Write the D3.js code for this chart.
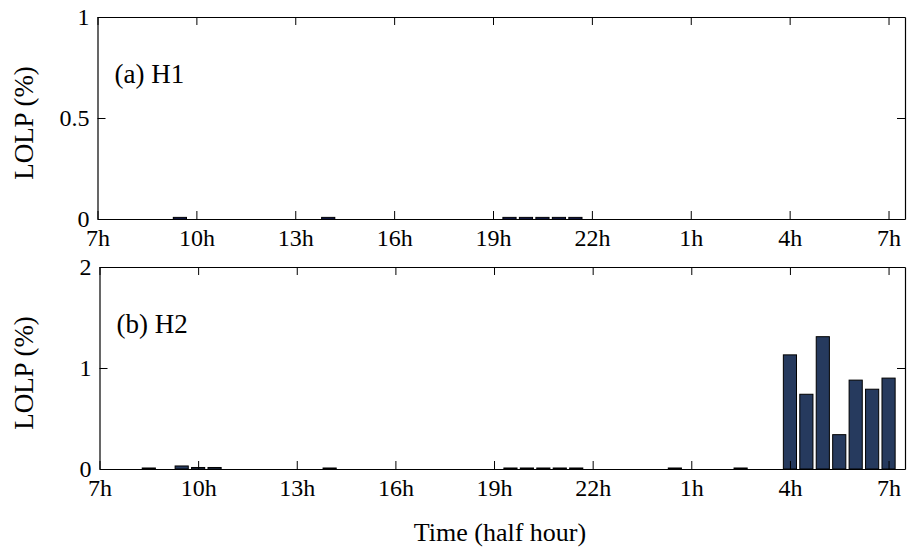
<!DOCTYPE html>
<html>
<head>
<meta charset="utf-8">
<script src="https://cdn.jsdelivr.net/npm/d3@7"></script>
<style>
  html, body { margin: 0; padding: 0; background: #fff; }
  svg { display: block; }
  text { font-family: "Liberation Serif", "Times New Roman", serif; fill: #000; }
</style>
</head>
<body>
<svg id="chart" width="907" height="548"></svg>
<script>
// Half-hour slots 1..48 (7:30 -> 7:00 next day); slot 0 = 7h
const xTickValues = [0, 6, 12, 18, 24, 30, 36, 42, 48];
const xTickLabels = ["7h", "10h", "13h", "16h", "19h", "22h", "1h", "4h", "7h"];

// LOLP (%) per half-hour slot, slot 1 .. slot 48
const h1Values = [
  0, 0, 0, 0, 0.008, 0, 0, 0, 0, 0, 0, 0,
  0, 0.008, 0, 0, 0, 0, 0, 0, 0, 0, 0, 0,
  0.008, 0.008, 0.008, 0.008, 0.008, 0, 0, 0, 0, 0, 0, 0,
  0, 0, 0, 0, 0, 0, 0, 0, 0, 0, 0, 0
];
const h2Values = [
  0, 0, 0.01, 0, 0.03, 0.015, 0.015, 0, 0, 0, 0, 0,
  0, 0.01, 0, 0, 0, 0, 0, 0, 0, 0, 0, 0,
  0.01, 0.01, 0.01, 0.01, 0.01, 0, 0, 0, 0, 0, 0.01, 0,
  0, 0, 0.01, 0, 0, 1.13, 0.74, 1.31, 0.34, 0.88, 0.79, 0.90
];

const yTicksH1 = [0, 0.5, 1];
const yTickLabelsH1 = ["0", "0.5", "1"];
const yTicksH2 = [0, 1, 2];
const yTickLabelsH2 = ["0", "1", "2"];

const panels = [
  { values: h1Values, yMax: 1, yTicks: yTicksH1, yLabels: yTickLabelsH1, title: "(a) H1",
    left: 97.5, right: 905, top: 17, bottom: 219, fill: "#1d2b7e" },
  { values: h2Values, yMax: 2, yTicks: yTicksH2, yLabels: yTickLabelsH2, title: "(b) H2",
    left: 99.5, right: 905, top: 267, bottom: 469, fill: "#263a5e" }
];

const svg = d3.select("#chart");
const FS = 24;

panels.forEach(p => {
  const x = d3.scaleLinear().domain([0, 49]).range([p.left, p.right]);
  const y = d3.scaleLinear().domain([0, p.yMax]).range([p.bottom, p.top]);
  const g = svg.append("g");
  const barW = (x(1) - x(0)) * 0.8;

  // bars
  g.selectAll("rect.bar")
    .data(p.values.map((v, i) => ({ slot: i + 1, v })).filter(d => d.v > 0))
    .enter().append("rect")
    .attr("class", "bar")
    .attr("x", d => x(d.slot) - barW / 2)
    .attr("width", barW)
    .attr("y", d => y(d.v))
    .attr("height", d => Math.max(0.8, y(0) - y(d.v)))
    .attr("fill", p.fill)
    .attr("stroke", "#000")
    .attr("stroke-width", 1);

  // axes
  const ax = d3.axisBottom(x).tickValues(xTickValues)
    .tickFormat((d, i) => xTickLabels[i]).tickSizeInner(-8).tickSizeOuter(0).tickPadding(10);
  const gx = g.append("g").attr("transform", `translate(0,${p.bottom})`).call(ax);
  gx.selectAll("text").style("font-size", FS + "px");

  const axT = d3.axisTop(x).tickValues(xTickValues).tickFormat("").tickSizeInner(-8).tickSizeOuter(0);
  g.append("g").attr("transform", `translate(0,${p.top})`).call(axT);

  const ay = d3.axisLeft(y).tickValues(p.yTicks)
    .tickFormat((d, i) => p.yLabels[i]).tickSizeInner(-8).tickSizeOuter(0).tickPadding(8);
  const gy = g.append("g").attr("transform", `translate(${p.left},0)`).call(ay);
  gy.selectAll("text").style("font-size", FS + "px");

  const ayR = d3.axisRight(y).tickValues(p.yTicks).tickFormat("").tickSizeInner(-8).tickSizeOuter(0);
  g.append("g").attr("transform", `translate(${p.right},0)`).call(ayR);

  g.selectAll(".domain").attr("stroke", "#000").attr("stroke-width", 1.2);
  g.selectAll(".tick line").attr("stroke", "#000").attr("stroke-width", 1);

  // panel title
  g.append("text")
    .attr("x", p.left + 17)
    .attr("y", p.top + 66)
    .style("font-size", "27px")
    .text(p.title);

  // y label
  const cy = (p.top + p.bottom) / 2 + 5;
  g.append("text")
    .attr("transform", `translate(33,${cy}) rotate(-90)`)
    .attr("text-anchor", "middle")
    .style("font-size", "27px")
    .text("LOLP (%)");
});

svg.append("text")
  .attr("x", 500)
  .attr("y", 541)
  .attr("text-anchor", "middle")
  .style("font-size", "26px")
  .text("Time (half hour)");
</script>
</body>
</html>
